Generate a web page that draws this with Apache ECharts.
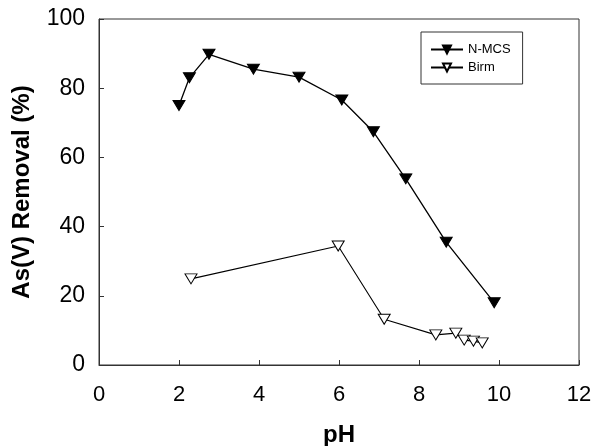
<!DOCTYPE html>
<html>
<head>
<meta charset="utf-8">
<script src="https://cdn.jsdelivr.net/npm/echarts@6/dist/echarts.min.js"></script>
<style>
  html, body { margin: 0; padding: 0; background: #fff; }
  #chart { width: 595px; height: 446px; }
</style>
</head>
<body>
<div id="chart"></div>
<script>
// As(V) removal versus pH for two adsorbents
const nmcsPH      = [2.0, 2.26, 2.75, 3.86, 5.0, 6.07, 6.86, 7.67, 8.68, 9.88];
const nmcsRemoval = [75.0, 83.0, 89.8, 85.5, 83.2, 76.6, 67.4, 53.8, 35.5, 18.0];

const birmPH      = [2.3, 5.98, 7.13, 8.42, 8.92, 9.13, 9.36, 9.58];
const birmRemoval = [24.9, 34.4, 13.2, 8.7, 9.2, 7.2, 6.9, 6.4];

const xTicks = [0, 2, 4, 6, 8, 10, 12];
const yTicks = [0, 20, 40, 60, 80, 100];

const FONT = 'Liberation Sans, Arial, Helvetica, sans-serif';

function pairs(xs, ys) {
  return xs.map((x, i) => [x, ys[i]]);
}

const chart = echarts.init(document.getElementById('chart'), null, { renderer: 'canvas' });

const axisLineStyle = { color: '#333', width: 1 };

chart.setOption({
  animation: false,
  backgroundColor: '#fff',
  textStyle: { fontFamily: FONT },
  grid: {
    left: 99, right: 16, top: 19, bottom: 81,
    show: true, borderColor: '#333', borderWidth: 1,
    containLabel: false,
    outerBoundsMode: 'none'
  },
  legend: {
    orient: 'vertical',
    left: 421, top: 32,
    padding: [11, 12, 10, 9],
    itemWidth: 32, itemHeight: 10, itemGap: 5,
    borderColor: '#333', borderWidth: 1,
    textStyle: { fontFamily: FONT, fontSize: 13, color: '#000' },
    data: ['N-MCS', 'Birm']
  },
  xAxis: {
    type: 'value',
    min: xTicks[0], max: xTicks[xTicks.length - 1], interval: 2,
    name: 'pH', nameLocation: 'middle', nameGap: 58,
    nameTextStyle: { fontFamily: FONT, fontSize: 24, fontWeight: 'bold', color: '#000' },
    axisLine: { show: true, lineStyle: axisLineStyle },
    axisTick: { show: true, inside: true, length: 5, lineStyle: axisLineStyle },
    axisLabel: { fontFamily: FONT, fontSize: 22, color: '#000', margin: 19 },
    splitLine: { show: false }
  },
  yAxis: {
    type: 'value',
    min: yTicks[0], max: yTicks[yTicks.length - 1], interval: 20,
    name: 'As(V) Removal (%)', nameLocation: 'middle', nameGap: 65, nameRotate: 90,
    nameTextStyle: { fontFamily: FONT, fontSize: 24, fontWeight: 'bold', color: '#000' },
    axisLine: { show: true, lineStyle: axisLineStyle },
    axisTick: { show: true, inside: true, length: 5, lineStyle: axisLineStyle },
    axisLabel: { fontFamily: FONT, fontSize: 23, color: '#000', margin: 14 },
    splitLine: { show: false }
  },
  series: [
    {
      name: 'N-MCS',
      type: 'line',
      data: pairs(nmcsPH, nmcsRemoval),
      symbol: 'triangle',
      symbolRotate: 180,
      symbolSize: [12, 10],
      showAllSymbol: true,
      lineStyle: { color: '#000', width: 1.3 },
      itemStyle: { color: '#000', borderColor: '#000', borderWidth: 1 },
      z: 3
    },
    {
      name: 'Birm',
      type: 'line',
      data: pairs(birmPH, birmRemoval),
      symbol: 'triangle',
      symbolRotate: 180,
      symbolSize: [12, 10],
      showAllSymbol: true,
      lineStyle: { color: '#000', width: 1.1 },
      itemStyle: { color: '#fff', borderColor: '#000', borderWidth: 1 },
      z: 2
    }
  ]
});
</script>
</body>
</html>
